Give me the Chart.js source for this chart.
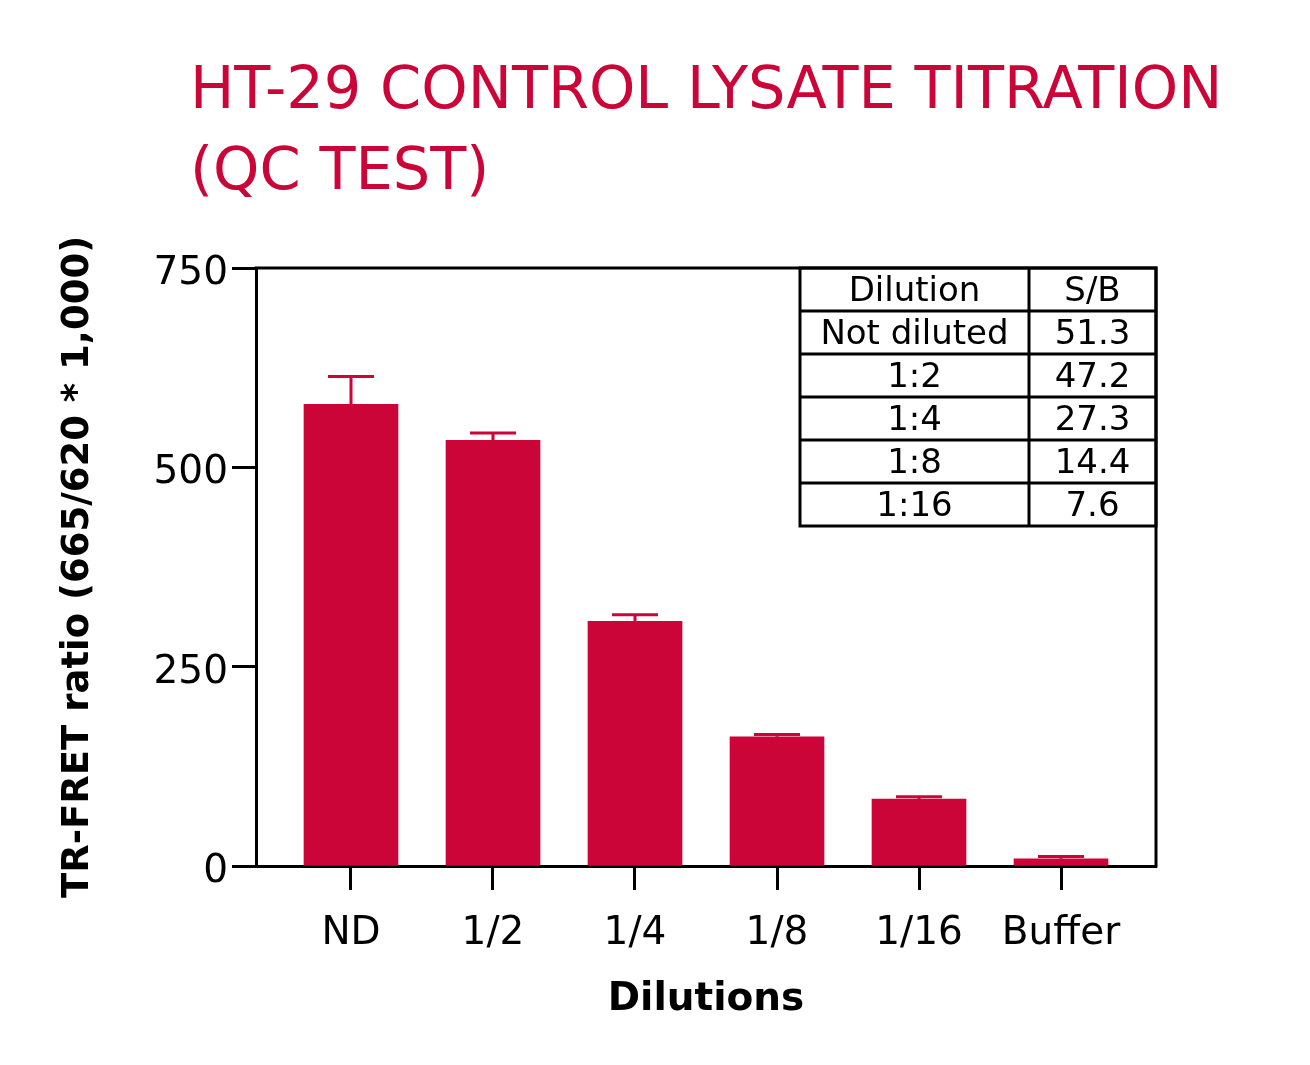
<!DOCTYPE html>
<html>
<head>
<meta charset="utf-8">
<script src="https://cdn.jsdelivr.net/npm/chart.js@4.4.1/dist/chart.umd.min.js"></script>
<style>
  html, body { margin: 0; padding: 0; background: #ffffff; }
  #wrap { width: 1310px; height: 1065px; position: relative; }
</style>
</head>
<body>
<div id="wrap"><canvas id="c" width="1310" height="1065"></canvas></div>
<script>
// ---- data ----
const categories = ["ND", "1/2", "1/4", "1/8", "1/16", "Buffer"];
const meanValues = [579, 534, 307, 162, 84, 9];
const errorValues = [35, 9, 8, 3, 3, 3];
const yTicks = [0, 250, 500, 750];
const titleLines = ["HT-29 CONTROL LYSATE TITRATION", "(QC TEST)"];
const yAxisTitle = "TR-FRET ratio (665/620 * 1,000)";
const xAxisTitle = "Dilutions";
const tableHeader = ["Dilution", "S/B"];
const tableDilutions = ["Not diluted", "1:2", "1:4", "1:8", "1:16"];
const tableSB = ["51.3", "47.2", "27.3", "14.4", "7.6"];

// ---- styles ----
const RED = "#cc0539";
const FONT = '"DejaVu Sans", "Liberation Sans", sans-serif';

const points = categories.map((c, i) => ({ x: i, y: meanValues[i] }));

const titlePlugin = {
  id: "pageTitle",
  afterDraw(chart) {
    const ctx = chart.ctx;
    ctx.save();
    ctx.fillStyle = RED;
    ctx.font = "59px " + FONT;
    ctx.textAlign = "left";
    ctx.textBaseline = "alphabetic";
    ctx.fillText(titleLines[0], 190, 108);
    ctx.fillText(titleLines[1], 190, 189);
    ctx.restore();
  }
};

const errorBarPlugin = {
  id: "errorBars",
  afterDatasetsDraw(chart) {
    const ctx = chart.ctx;
    const xs = chart.scales.x, ys = chart.scales.y;
    ctx.save();
    ctx.strokeStyle = RED;
    ctx.lineWidth = 3;
    meanValues.forEach((m, i) => {
      const x = xs.getPixelForValue(i);
      const y1 = ys.getPixelForValue(m);
      const y2 = ys.getPixelForValue(m + errorValues[i]);
      ctx.beginPath();
      ctx.moveTo(x, y1);
      ctx.lineTo(x, y2);
      ctx.moveTo(x - 23, y2);
      ctx.lineTo(x + 23, y2);
      ctx.stroke();
    });
    ctx.restore();
  }
};

const framePlugin = {
  id: "frameAndTable",
  afterDraw(chart) {
    const ctx = chart.ctx;
    const a = chart.chartArea;
    ctx.save();
    ctx.strokeStyle = "#000";
    ctx.lineWidth = 3;
    ctx.beginPath();
    ctx.moveTo(a.left - 1.5, a.top);
    ctx.lineTo(a.right, a.top);
    ctx.lineTo(a.right, a.bottom + 1.5);
    ctx.stroke();

    // S/B table
    const right = a.right;
    const left = right - 356;
    const col = left + 229;
    const top = a.top;
    const rowH = 43;
    const nRows = tableDilutions.length + 1;
    ctx.lineWidth = 3;
    ctx.beginPath();
    ctx.rect(left, top, right - left, rowH * nRows);
    ctx.moveTo(col, top);
    ctx.lineTo(col, top + rowH * nRows);
    for (let r = 1; r < nRows; r++) {
      ctx.moveTo(left, top + rowH * r);
      ctx.lineTo(right, top + rowH * r);
    }
    ctx.stroke();
    ctx.fillStyle = "#000";
    ctx.font = "34px " + FONT;
    ctx.textAlign = "center";
    ctx.textBaseline = "middle";
    const rows = [tableHeader].concat(tableDilutions.map((d, i) => [d, tableSB[i]]));
    rows.forEach((row, r) => {
      const cy = top + rowH * r + rowH / 2 + 3;
      ctx.fillText(row[0], (left + col) / 2, cy);
      ctx.fillText(row[1], (col + right) / 2, cy);
    });
    ctx.restore();
  }
};

new Chart(document.getElementById("c"), {
  type: "bar",
  data: {
    datasets: [{
      data: points,
      backgroundColor: RED,
      borderWidth: 0,
      barThickness: 94
    }]
  },
  options: {
    responsive: false,
    animation: false,
    devicePixelRatio: 1,
    layout: { padding: { top: 268, left: 0, right: 154, bottom: 0 } },
    plugins: {
      legend: { display: false },
      tooltip: { enabled: false },
      title: { display: false }
    },
    scales: {
      x: {
        type: "linear",
        offset: false,
        min: -0.669,
        max: 5.669,
        afterBuildTicks: (s) => { s.ticks = categories.map((c, i) => ({ value: i })); },
        afterFit: (s) => { s.height = 199; },
        ticks: {
          callback: (v) => categories[v],
          color: "#000",
          font: { family: FONT, size: 39 },
          padding: 20,
          maxRotation: 0,
          autoSkip: false
        },
        grid: {
          display: true,
          drawOnChartArea: false,
          drawTicks: true,
          tickLength: 24,
          tickWidth: 3,
          tickColor: "#000",
          offset: false
        },
        border: { display: true, color: "#000", width: 3 },
        title: {
          display: true,
          text: xAxisTitle,
          color: "#000",
          font: { family: FONT, size: 39, weight: "bold" },
          padding: { top: 0, bottom: 42 }
        }
      },
      y: {
        min: 0,
        max: 750,
        afterBuildTicks: (s) => { s.ticks = yTicks.map(v => ({ value: v })); },
        afterFit: (s) => { s.width = 256; },
        ticks: {
          color: "#000",
          font: { family: FONT, size: 39 },
          padding: 4,
          labelOffset: 6
        },
        grid: {
          display: true,
          drawOnChartArea: false,
          drawTicks: true,
          tickLength: 24,
          tickWidth: 3,
          tickColor: "#000"
        },
        border: { display: true, color: "#000", width: 3 },
        title: {
          display: true,
          text: yAxisTitle,
          color: "#000",
          font: { family: FONT, size: 37, weight: "bold" },
          padding: { top: 56, bottom: 0 }
        }
      }
    }
  },
  plugins: [titlePlugin, errorBarPlugin, framePlugin]
});
</script>
</body>
</html>
